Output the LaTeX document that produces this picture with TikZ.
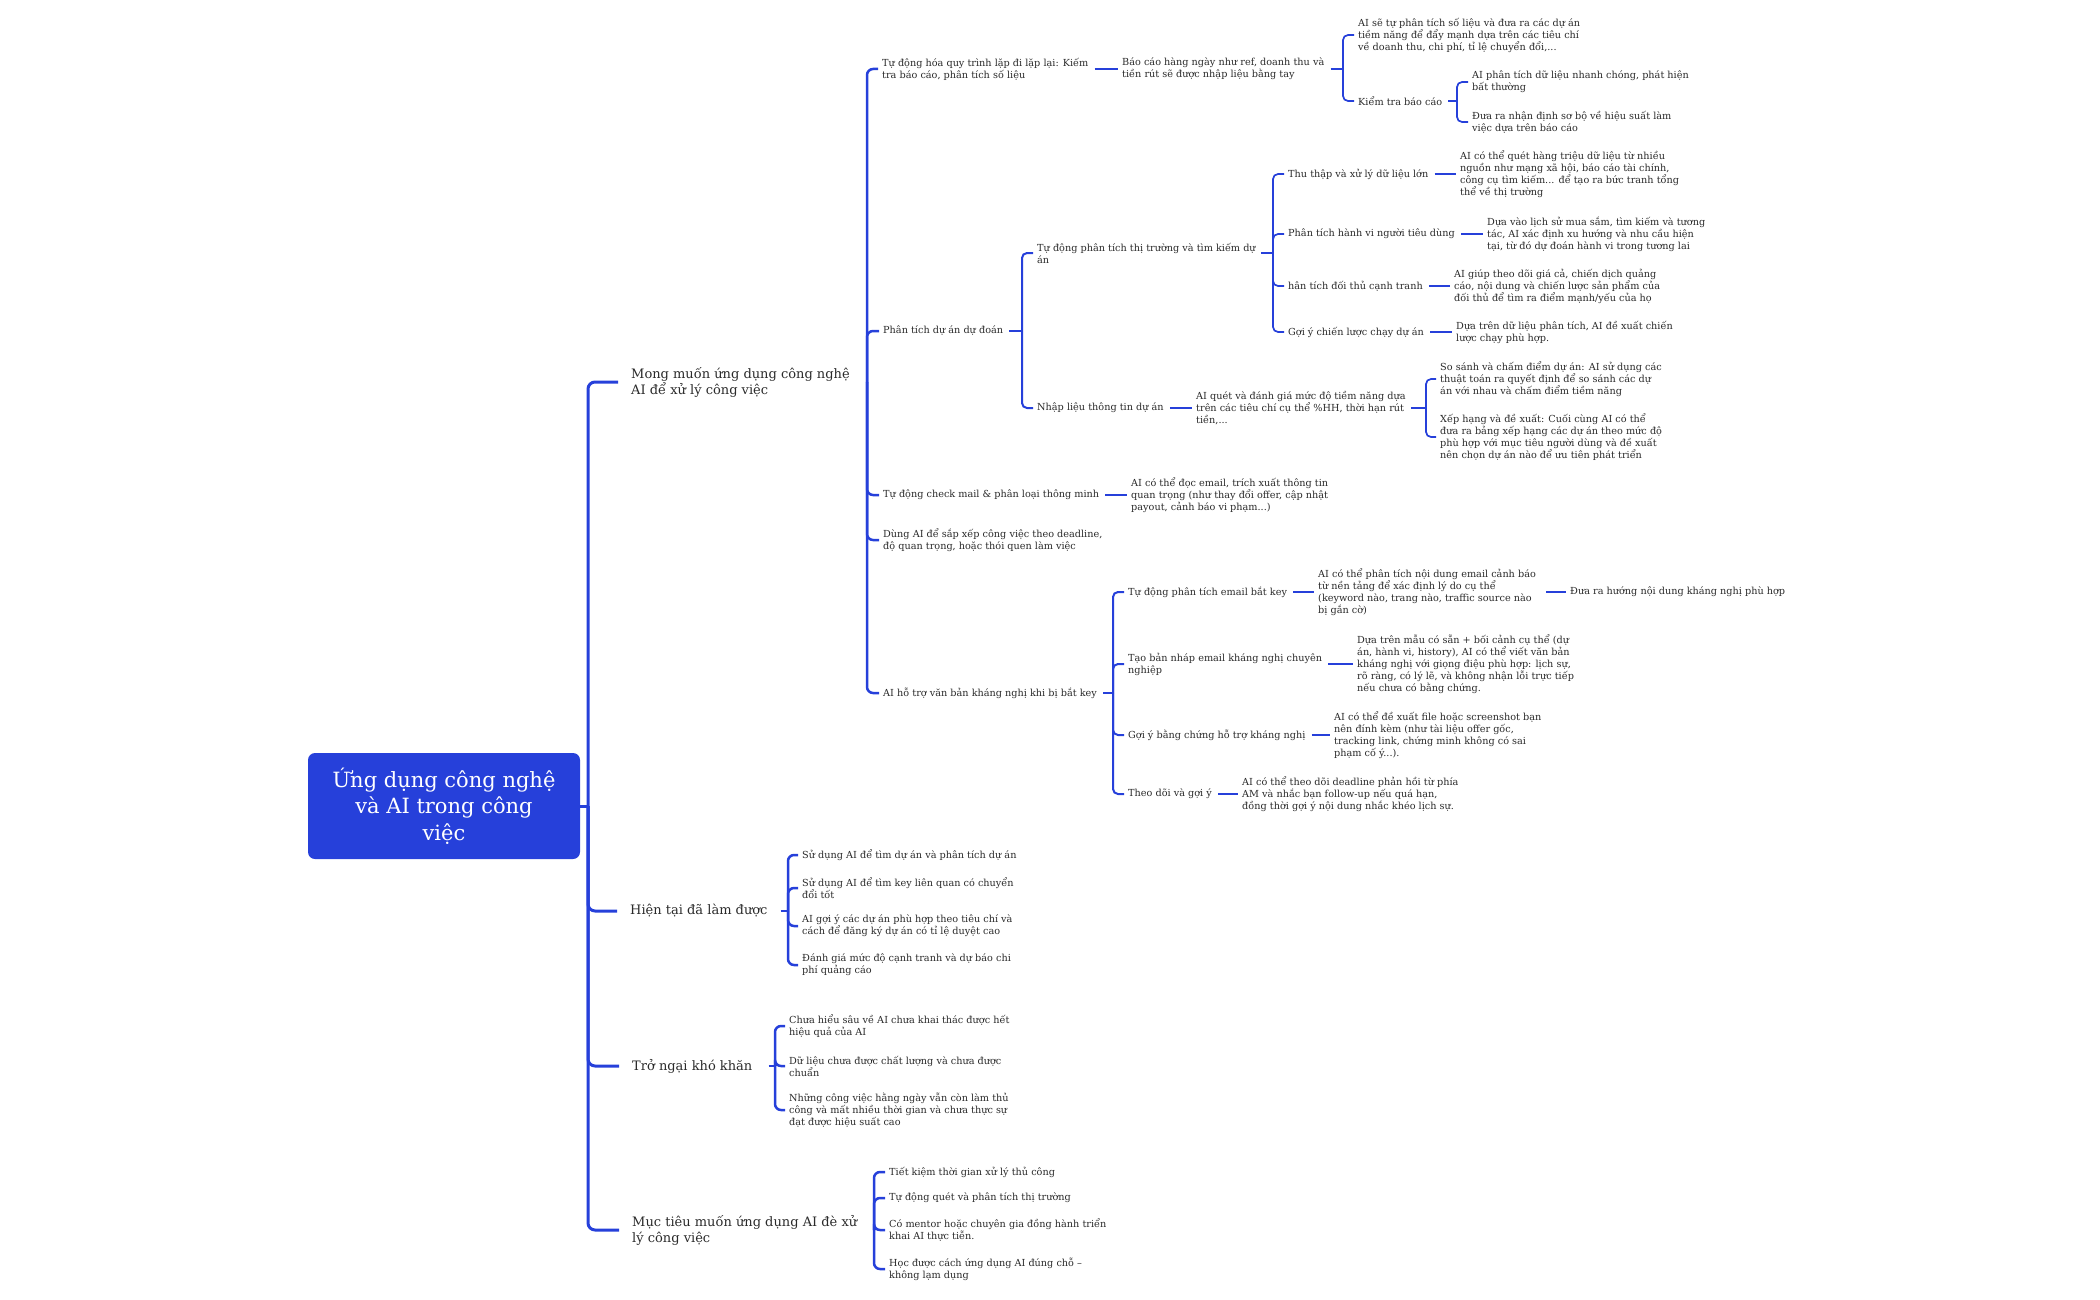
\documentclass[tikz,border=0pt]{standalone}
\usepackage{fontspec}
\setmainfont{DejaVu Serif}
\definecolor{bl}{HTML}{2640DA}
\definecolor{txt}{HTML}{2A2A2A}
\newcommand\fsS{\fontsize{9.7}{12.0}\selectfont}
\newcommand\fsL{\fontsize{13.0}{15.9}\selectfont}
\newcommand\fsR{\fontsize{21}{26.6}\selectfont}
\tikzset{
  sm/.style={anchor=west, inner sep=0pt, align=left, font=\fsS, text=txt},
  lg/.style={anchor=west, inner sep=0pt, align=left, font=\fsL, text=txt},
  rootbox/.style={fill=bl, rounded corners=7pt, minimum width=272pt, minimum height=106pt, align=center, font=\fsR, text=white, inner sep=0pt},
  w0/.style={draw=bl, line width=3pt, rounded corners=7pt},
  w1/.style={draw=bl, line width=2.5pt, rounded corners=6pt},
  w2/.style={draw=bl, line width=2pt, rounded corners=5pt},
  w3/.style={draw=bl, line width=1.7pt, rounded corners=5pt},
}
\begin{document}
\begin{tikzpicture}[x=1pt,y=-1pt]
\useasboundingbox (0,0) rectangle (2100,1300);
% root
\node[rootbox] (root) at (444,806) {Ứng dụng công nghệ\\và AI trong công\\việc};
% level 1
\node[lg] (m1) at (631,382) {Mong muốn ứng dụng công nghệ\\AI để xử lý công việc};
\node[lg] (m2) at (630,911) {Hiện tại đã làm được};
\node[lg] (m3) at (632,1066) {Trở ngại khó khăn};
\node[lg] (m4) at (632,1230) {Mục tiêu muốn ứng dụng AI đè xử\\lý công việc};
% under m1
\node[sm] (a1) at (882,69) {Tự động hóa quy trình lặp đi lặp lại: Kiếm\\tra báo cáo, phân tích số liệu};
\node[sm] (a2) at (883,331) {Phân tích dự án dự đoán};
\node[sm] (a3) at (883,495) {Tự động check mail \& phân loại thông minh};
\node[sm] (a4) at (883,540) {Dùng AI để sắp xếp công việc theo deadline,\\độ quan trọng, hoặc thói quen làm việc};
\node[sm] (a5) at (883,693) {AI hỗ trợ văn bản kháng nghị khi bị bắt key};
% a1 chain
\node[sm] (b1) at (1122,69) {Báo cáo hàng ngày như ref, doanh thu và\\tiền rút sẽ được nhập liệu bằng tay};
\node[sm] (c1) at (1358,35) {AI sẽ tự phân tích số liệu và đưa ra các dự án\\tiềm năng để đẩy mạnh dựa trên các tiêu chí\\về doanh thu, chi phí, tỉ lệ chuyển đổi,...};
\node[sm] (c2) at (1358,101) {Kiểm tra báo cáo};
\node[sm] (d1) at (1472,82) {AI phân tích dữ liệu nhanh chóng, phát hiện\\bất thường};
\node[sm] (d2) at (1472,122) {Đưa ra nhận định sơ bộ về hiệu suất làm\\việc dựa trên báo cáo};
% a2 subtree
\node[sm] (e1) at (1037,253) {Tự động phân tích thị trường và tìm kiếm dự\\án};
\node[sm] (e2) at (1037,408) {Nhập liệu thông tin dự án};
\node[sm] (f1) at (1288,174) {Thu thập và xử lý dữ liệu lớn};
\node[sm] (f2) at (1288,234) {Phân tích hành vi người tiêu dùng};
\node[sm] (f3) at (1288,286) {hân tích đối thủ cạnh tranh};
\node[sm] (f4) at (1288,332) {Gợi ý chiến lược chạy dự án};
\node[sm] (g1) at (1460,174) {AI có thể quét hàng triệu dữ liệu từ nhiều\\nguồn như mạng xã hội, báo cáo tài chính,\\công cụ tìm kiếm... để tạo ra bức tranh tổng\\thể về thị trường};
\node[sm] (g2) at (1487,234) {Dựa vào lịch sử mua sắm, tìm kiếm và tương\\tác, AI xác định xu hướng và nhu cầu hiện\\tại, từ đó dự đoán hành vi trong tương lai};
\node[sm] (g3) at (1454,286) {AI giúp theo dõi giá cả, chiến dịch quảng\\cáo, nội dung và chiến lược sản phẩm của\\đối thủ để tìm ra điểm mạnh/yếu của họ};
\node[sm] (g4) at (1456,332) {Dựa trên dữ liệu phân tích, AI đề xuất chiến\\lược chạy phù hợp.};
\node[sm] (h1) at (1196,408) {AI quét và đánh giá mức độ tiềm năng dựa\\trên các tiêu chí cụ thể \%HH, thời hạn rút\\tiền,...};
\node[sm] (i1) at (1440,379) {So sánh và chấm điểm dự án: AI sử dụng các\\thuật toán ra quyết định để so sánh các dự\\án với nhau và chấm điểm tiềm năng};
\node[sm] (i2) at (1440,437) {Xếp hạng và đề xuất: Cuối cùng AI có thể\\đưa ra bảng xếp hạng các dự án theo mức độ\\phù hợp với mục tiêu người dùng và đề xuất\\nên chọn dự án nào để ưu tiên phát triển};
% a3
\node[sm] (j1) at (1131,495) {AI có thể đọc email, trích xuất thông tin\\quan trọng (như thay đổi offer, cập nhật\\payout, cảnh báo vi phạm...)};
% a5 subtree
\node[sm] (k1) at (1128,592) {Tự động phân tích email bắt key};
\node[sm] (k2) at (1128,664) {Tạo bản nháp email kháng nghị chuyên\\nghiệp};
\node[sm] (k3) at (1128,735) {Gợi ý bằng chứng hỗ trợ kháng nghị};
\node[sm] (k4) at (1128,794) {Theo dõi và gợi ý};
\node[sm] (l1) at (1318,592) {AI có thể phân tích nội dung email cảnh báo\\từ nền tảng để xác định lý do cụ thể\\(keyword nào, trang nào, traffic source nào\\bị gắn cờ)};
\node[sm] (l1b) at (1570,592) {Đưa ra hướng nội dung kháng nghị phù hợp};
\node[sm] (l2) at (1357,664) {Dựa trên mẫu có sẵn + bối cảnh cụ thể (dự\\án, hành vi, history), AI có thể viết văn bản\\kháng nghị với giọng điệu phù hợp: lịch sự,\\rõ ràng, có lý lẽ, và không nhận lỗi trực tiếp\\nếu chưa có bằng chứng.};
\node[sm] (l3) at (1334,735) {AI có thể đề xuất file hoặc screenshot bạn\\nên đính kèm (như tài liệu offer gốc,\\tracking link, chứng minh không có sai\\phạm cố ý...).};
\node[sm] (l4) at (1242,794) {AI có thể theo dõi deadline phản hồi từ phía\\AM và nhắc bạn follow-up nếu quá hạn,\\đồng thời gợi ý nội dung nhắc khéo lịch sự.};
% m2
\node[sm] (n1) at (802,855) {Sử dụng AI để tìm dự án và phân tích dự án};
\node[sm] (n2) at (802,888) {Sử dụng AI để tìm key liên quan có chuyển\\đổi tốt};
\node[sm] (n3) at (802,926) {AI gợi ý các dự án phù hợp theo tiêu chí và\\cách để đăng ký dự án có tỉ lệ duyệt cao};
\node[sm] (n4) at (802,965) {Đánh giá mức độ cạnh tranh và dự báo chi\\phí quảng cáo};
% m3
\node[sm] (o1) at (789,1026) {Chưa hiểu sâu về AI chưa khai thác được hết\\hiệu quả của AI};
\node[sm] (o2) at (789,1066) {Dữ liệu chưa được chất lượng và chưa được\\chuẩn};
\node[sm] (o3) at (789,1110) {Những công việc hằng ngày vẫn còn làm thủ\\công và mất nhiều thời gian và chưa thực sự\\đạt được hiệu suất cao};
% m4
\node[sm] (p1) at (889,1172) {Tiết kiệm thời gian xử lý thủ công};
\node[sm] (p2) at (889,1198) {Tự động quét và phân tích thị trường};
\node[sm] (p3) at (889,1230) {Có mentor hoặc chuyên gia đồng hành triển\\khai AI thực tiễn.};
\node[sm] (p4) at (889,1269) {Học được cách ứng dụng AI đúng chỗ –\\không lạm dụng};

% bus coordinates
\coordinate (rB) at (588,806);
\coordinate (m1B) at (867,382);
\coordinate (m2B) at (788,911);
\coordinate (m3B) at (775,1066);
\coordinate (m4B) at (874,1230);
\coordinate (b1B) at (1343,69);
\coordinate (c2B) at (1457,101);
\coordinate (a2B) at (1022,331);
\coordinate (e1B) at (1273,253);
\coordinate (h1B) at (1426,408);
\coordinate (a5B) at (1113,693);

% root trunk
\draw[w0] (root.east) -- (rB);
\foreach \c in {m1,m2,m3,m4} \draw[w0] (rB) |- ([xshift=-13pt]\c.west);
% level1 buses
\draw[w1] ([xshift=16pt]m1.east) -- (m1B);
\foreach \c in {a1,a2,a3,a4,a5} \draw[w1] (m1B) |- ([xshift=-4pt]\c.west);
\draw[w1] ([xshift=13pt]m2.east) -- (m2B);
\foreach \c in {n1,n2,n3,n4} \draw[w1] (m2B) |- ([xshift=-4pt]\c.west);
\draw[w1] ([xshift=16pt]m3.east) -- (m3B);
\foreach \c in {o1,o2,o3} \draw[w1] (m3B) |- ([xshift=-4pt]\c.west);
\draw[w1] ([xshift=16pt]m4.east) -- (m4B);
\foreach \c in {p1,p2,p3,p4} \draw[w1] (m4B) |- ([xshift=-4pt]\c.west);
% level2
\draw[w2] ([xshift=6pt]a1.east) -- ([xshift=-4pt]b1.west);
\draw[w2] ([xshift=6pt]a2.east) -- (a2B);
\foreach \c in {e1,e2} \draw[w2] (a2B) |- ([xshift=-4pt]\c.west);
\draw[w2] ([xshift=6pt]a3.east) -- ([xshift=-4pt]j1.west);
\draw[w2] ([xshift=6pt]a5.east) -- (a5B);
\foreach \c in {k1,k2,k3,k4} \draw[w2] (a5B) |- ([xshift=-4pt]\c.west);
% level3+
\draw[w3] ([xshift=6pt]b1.east) -- (b1B);
\foreach \c in {c1,c2} \draw[w3] (b1B) |- ([xshift=-4pt]\c.west);
\draw[w3] ([xshift=6pt]c2.east) -- (c2B);
\foreach \c in {d1,d2} \draw[w3] (c2B) |- ([xshift=-4pt]\c.west);
\draw[w3] ([xshift=5pt]e1.east) -- (e1B);
\foreach \c in {f1,f2,f3,f4} \draw[w3] (e1B) |- ([xshift=-4pt]\c.west);
\draw[w3] ([xshift=6pt]f1.east) -- ([xshift=-4pt]g1.west);
\draw[w3] ([xshift=6pt]f2.east) -- ([xshift=-4pt]g2.west);
\draw[w3] ([xshift=6pt]f3.east) -- ([xshift=-4pt]g3.west);
\draw[w3] ([xshift=6pt]f4.east) -- ([xshift=-4pt]g4.west);
\draw[w3] ([xshift=6pt]e2.east) -- ([xshift=-4pt]h1.west);
\draw[w3] ([xshift=5pt]h1.east) -- (h1B);
\foreach \c in {i1,i2} \draw[w3] (h1B) |- ([xshift=-4pt]\c.west);
\draw[w3] ([xshift=6pt]k1.east) -- ([xshift=-4pt]l1.west);
\draw[w3] ([xshift=10pt]l1.east) -- ([xshift=-4pt]l1b.west);
\draw[w3] ([xshift=6pt]k2.east) -- ([xshift=-4pt]l2.west);
\draw[w3] ([xshift=6pt]k3.east) -- ([xshift=-4pt]l3.west);
\draw[w3] ([xshift=6pt]k4.east) -- ([xshift=-4pt]l4.west);
\end{tikzpicture}
\end{document}
